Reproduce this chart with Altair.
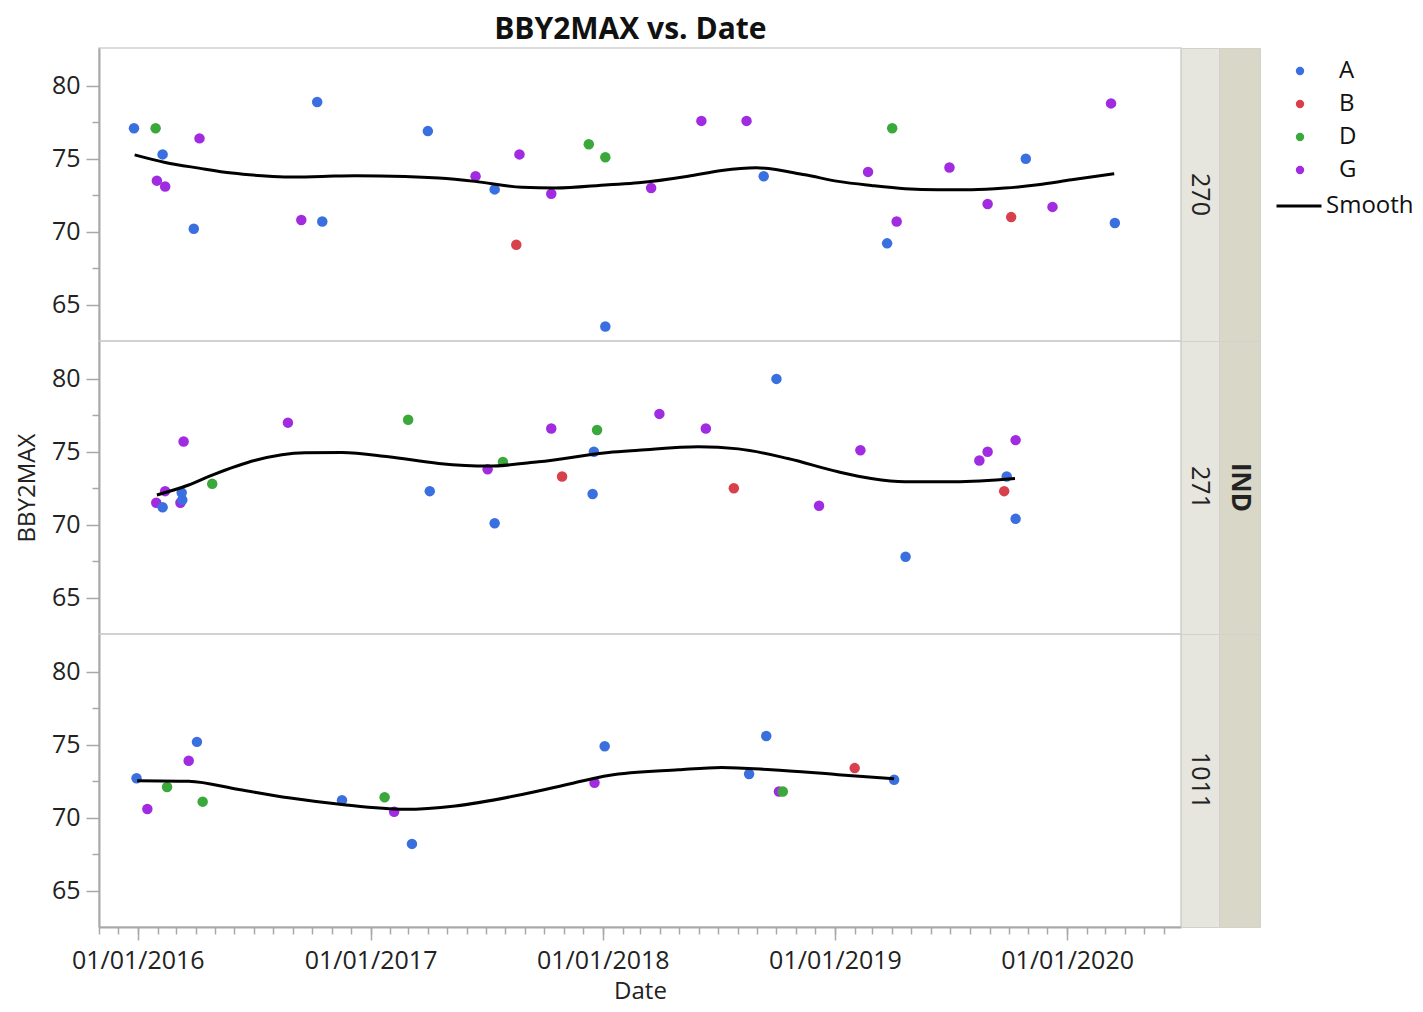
import altair as alt
import pandas as pd

FONT = "Open Sans"
GROUPS = ["A", "B", "D", "G"]
GROUP_COLORS = ["#3a6fe0", "#d8414c", "#3ba83b", "#a12be0"]
PANELS = ["270", "271", "1011"]
YEARS = [2016, 2017, 2018, 2019, 2020]
Y_MAJOR = [65, 70, 75, 80]
Y_MINOR = [67.5, 72.5, 77.5]

# ---- IND 270 ----
d270_date = ["2015-12-26", "2016-01-29", "2016-02-09", "2016-01-31", "2016-02-13", "2016-04-07",
             "2016-03-29", "2016-09-14", "2016-10-09", "2016-10-17", "2017-04-01", "2017-06-15",
             "2017-07-15", "2017-08-18", "2017-08-23", "2017-10-12", "2017-12-10", "2018-01-05",
             "2018-01-05", "2018-03-18", "2018-06-05", "2018-08-15", "2018-09-11", "2019-02-22",
             "2019-03-24", "2019-04-01", "2019-04-08", "2019-06-30", "2019-08-29", "2019-10-05",
             "2019-10-28", "2019-12-09", "2020-03-10", "2020-03-16"]
d270_val = [77.1, 77.1, 75.3, 73.5, 73.1, 76.4,
            70.2, 70.8, 78.9, 70.7, 76.9, 73.8,
            72.9, 69.1, 75.3, 72.6, 76.0, 75.1,
            63.5, 73.0, 77.6, 77.6, 73.8, 74.1,
            69.2, 77.1, 70.7, 74.4, 71.9, 71.0,
            75.0, 71.7, 78.8, 70.6]
d270_grp = ["A", "D", "A", "G", "G", "G",
            "A", "G", "A", "A", "A", "G",
            "A", "B", "G", "G", "D", "D",
            "A", "G", "G", "G", "A", "G",
            "A", "D", "G", "G", "G", "B",
            "A", "G", "G", "A"]
s270_date = ["2015-12-27", "2016-02-13", "2016-04-06", "2016-05-28", "2016-07-14", "2016-08-25",
             "2016-10-17", "2016-12-08", "2017-02-24", "2017-04-18", "2017-06-14", "2017-08-27",
             "2017-10-18", "2018-01-10", "2018-02-26", "2018-05-15", "2018-07-07", "2018-08-30",
             "2018-11-15", "2019-01-06", "2019-02-27", "2019-04-21", "2019-06-12", "2019-08-04",
             "2019-09-25", "2019-11-16", "2020-01-08", "2020-03-15"]
s270_val = [75.27, 74.75, 74.36, 74.02, 73.84, 73.75,
            73.79, 73.84, 73.79, 73.68, 73.45, 73.04,
            72.99, 73.22, 73.35, 73.8, 74.2, 74.38,
            73.9, 73.45, 73.17, 72.95, 72.88, 72.88,
            72.99, 73.22, 73.56, 73.97]

# ---- IND 271 ----
d271_date = ["2016-01-30", "2016-02-09", "2016-02-13", "2016-03-08", "2016-03-11", "2016-03-10",
             "2016-03-13", "2016-04-27", "2016-08-24", "2017-03-01", "2017-04-04", "2017-07-04",
             "2017-07-15", "2017-07-28", "2017-10-12", "2017-10-29", "2017-12-18", "2017-12-23",
             "2017-12-16", "2018-03-31", "2018-06-12", "2018-07-26", "2018-10-01", "2018-12-07",
             "2019-02-10", "2019-04-22", "2019-08-16", "2019-08-29", "2019-09-24", "2019-09-28",
             "2019-10-12", "2019-10-12"]
d271_val = [71.5, 71.2, 72.3, 71.5, 71.7, 72.2,
            75.7, 72.8, 77.0, 77.2, 72.3, 73.8,
            70.1, 74.3, 76.6, 73.3, 75.0, 76.5,
            72.1, 77.6, 76.6, 72.5, 80.0, 71.3,
            75.1, 67.8, 74.4, 75.0, 72.3, 73.3,
            75.8, 70.4]
d271_grp = ["G", "A", "G", "G", "A", "A",
            "G", "D", "G", "D", "A", "G",
            "A", "D", "G", "B", "A", "D",
            "A", "G", "G", "B", "A", "G",
            "G", "A", "G", "G", "B", "A",
            "G", "A"]
s271_date = ["2016-01-31", "2016-03-21", "2016-04-27", "2016-07-04", "2016-09-20", "2016-11-17",
             "2017-01-29", "2017-04-18", "2017-07-05", "2017-09-22", "2018-01-10", "2018-02-26",
             "2018-05-31", "2018-08-02", "2018-10-19", "2019-01-06", "2019-02-27", "2019-04-21",
             "2019-07-08", "2019-10-11"]
s271_val = [72.04, 72.72, 73.4, 74.42, 74.93, 74.95,
            74.66, 74.2, 74.02, 74.31, 74.95, 75.1,
            75.35, 75.2, 74.54, 73.63, 73.17, 72.95,
            72.95, 73.17]

# ---- IND 1011 ----
d1011_date = ["2015-12-30", "2016-01-16", "2016-02-16", "2016-03-21", "2016-04-03", "2016-04-12",
              "2016-11-17", "2017-01-23", "2017-02-07", "2017-03-07", "2017-12-19", "2018-01-04",
              "2018-08-19", "2018-09-15", "2018-10-05", "2018-10-11", "2019-02-01", "2019-04-04"]
d1011_val = [72.7, 70.6, 72.1, 73.9, 75.2, 71.1,
             71.2, 71.4, 70.4, 68.2, 72.4, 74.9,
             73.0, 75.6, 71.8, 71.8, 73.4, 72.6]
d1011_grp = ["A", "G", "D", "G", "A", "D",
             "A", "D", "G", "A", "G", "A",
             "A", "A", "G", "D", "B", "A"]
s1011_date = ["2015-12-31", "2016-03-21", "2016-06-08", "2016-08-25", "2016-11-17", "2017-02-24",
              "2017-05-14", "2017-08-27", "2017-11-13", "2018-01-10", "2018-04-30", "2018-07-07",
              "2018-09-23", "2019-01-06", "2019-04-04"]
s1011_val = [72.54, 72.5, 71.93, 71.36, 70.9, 70.57,
             70.8, 71.59, 72.35, 72.9, 73.29, 73.45,
             73.29, 72.95, 72.67]

PANEL_W = 1082
PANEL_H = 293
INNER_W = 38
OUTER_W = 41

x_scale = alt.Scale(domain=[alt.DateTime(year=2015, month=11, date=1),
                            alt.DateTime(year=2020, month=6, date=28)], nice=False)
y_scale = alt.Scale(domain=[62.5, 82.6], nice=False, zero=False)

color_legend = alt.Legend(title=None, symbolType="circle", symbolSize=70,
                          labelFontSize=24, rowPadding=9, labelOffset=27,
                          orient="none", legendX=1189, legendY=11)
stroke_legend = alt.Legend(title=None, symbolType="stroke", symbolSize=2025,
                           symbolStrokeWidth=3, labelFontSize=24, labelOffset=3,
                           orient="none", legendX=1176, legendY=134)


def panel(dates, vals, grps, sdates, svals, bottom, ytitle):
    pts = pd.DataFrame({"Date": dates, "BBY2MAX": vals, "grp": grps})
    sm = pd.DataFrame({"Date": sdates, "BBY2MAX": svals, "lbl": ["Smooth"] * len(sdates)})
    if bottom:
        x_major = alt.Axis(title="Date", format="%m/%d/%Y", orient="bottom",
                           values=[alt.DateTime(year=y, month=1, date=1) for y in YEARS],
                           tickSize=13, labelPadding=8, titlePadding=6, grid=False)
        x_minor = alt.Axis(title=None, labels=False, domain=False, grid=False, orient="bottom",
                           tickCount={"interval": "month", "step": 1}, tickSize=7)
    else:
        x_major = None
        x_minor = None
    y_major = alt.Axis(title=ytitle if ytitle else None, values=Y_MAJOR, tickSize=13,
                       labelPadding=6, titlePadding=12, grid=False, orient="left")
    y_minor = alt.Axis(title=None, values=Y_MINOR, labels=False, domain=False,
                       tickSize=7, grid=False, orient="left")

    points = alt.Chart(pts).mark_circle(size=110, opacity=1).encode(
        x=alt.X("Date:T", scale=x_scale, axis=x_major),
        y=alt.Y("BBY2MAX:Q", scale=y_scale, axis=y_major),
        color=alt.Color("grp:N", scale=alt.Scale(domain=GROUPS, range=GROUP_COLORS),
                        legend=color_legend),
    )
    line = alt.Chart(sm).mark_line(strokeWidth=3, interpolate="monotone").encode(
        x=alt.X("Date:T", scale=x_scale, axis=x_minor),
        y=alt.Y("BBY2MAX:Q", scale=y_scale, axis=y_minor),
        stroke=alt.Stroke("lbl:N", scale=alt.Scale(domain=["Smooth"], range=["black"]),
                          legend=stroke_legend),
    )
    return alt.layer(points, line).resolve_axis(x="independent", y="independent").properties(
        width=PANEL_W, height=PANEL_H)


def strip(label, w, fill, bold, size):
    df = pd.DataFrame({"t": [label]})
    return alt.Chart(df).mark_text(angle=90, fontSize=size, font=FONT,
                                   fontWeight="bold" if bold else "normal",
                                   color="#222222").encode(
        text="t:N"
    ).properties(width=w, height=PANEL_H,
                 view=alt.ViewBackground(fill=fill, stroke="#d2d2c8"))


INNER_FILL = "#e6e6de"
OUTER_FILL = "#d9d7c7"

p1 = panel(d270_date, d270_val, d270_grp, s270_date, s270_val, False, None)
p2 = panel(d271_date, d271_val, d271_grp, s271_date, s271_val, False, "BBY2MAX")
p3 = panel(d1011_date, d1011_val, d1011_grp, s1011_date, s1011_val, True, None)

chart = alt.concat(
    p1, strip(PANELS[0], INNER_W, INNER_FILL, False, 25), strip("", OUTER_W, OUTER_FILL, True, 26),
    p2, strip(PANELS[1], INNER_W, INNER_FILL, False, 25), strip("IND", OUTER_W, OUTER_FILL, True, 26),
    p3, strip(PANELS[2], INNER_W, INNER_FILL, False, 25), strip("", OUTER_W, OUTER_FILL, True, 26),
    columns=3, spacing=0, bounds="flush",
).properties(
    title=alt.Title("BBY2MAX vs. Date", font=FONT, fontSize=30, fontWeight="bold",
                    color="#111111", anchor="middle", dx=-84, offset=2),
    padding={"left": 6, "top": 7, "right": 0, "bottom": 0},
).configure_view(
    stroke="#d0d0d0", strokeWidth=1.5
).configure_axis(
    labelFont=FONT, labelFontSize=25, labelColor="#222222",
    titleFont=FONT, titleFontSize=24, titleFontWeight="normal", titleColor="#222222",
    domainColor="#a8a8a8", domainWidth=2, tickColor="#a8a8a8", tickWidth=1.5,
).configure_legend(
    labelFont=FONT, labelColor="#111111",
)

chart.save("out.html", embed_options={"renderer": "svg", "actions": False})
